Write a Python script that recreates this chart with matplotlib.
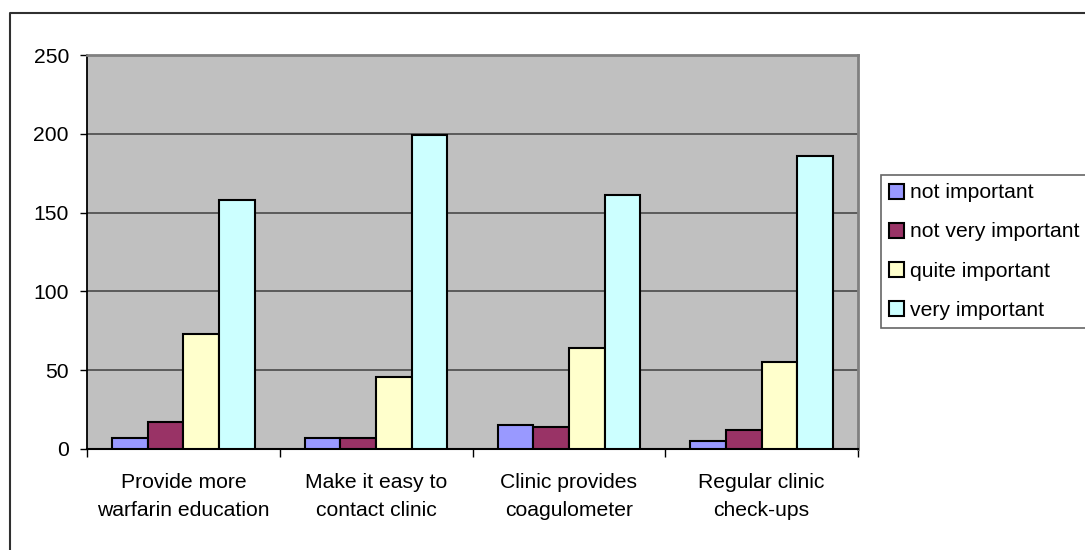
import numpy as np
import matplotlib.pyplot as plt
from matplotlib.lines import Line2D

plt.rcParams['font.family'] = ['Liberation Sans', 'DejaVu Sans']

# data
categories = ['Provide more\nwarfarin education', 'Make it easy to\ncontact clinic',
              'Clinic provides\ncoagulometer', 'Regular clinic\ncheck-ups']
series = ['not important', 'not very important', 'quite important', 'very important']
not_important = [7, 7, 15, 5]
not_very_important = [17, 7, 14, 12]
quite_important = [73, 46, 64, 55]
very_important = [158, 199, 161, 186]
colors = ['#9999FF', '#993366', '#FFFFCC', '#CCFFFF']

values = [not_important, not_very_important, quite_important, very_important]

fig = plt.figure(figsize=(10.85, 5.5), dpi=100)
ax = fig.add_axes([87 / 1085, 101 / 550, 771 / 1085, 394 / 550])
ax.set_facecolor('#C0C0C0')

x = np.arange(len(categories))
bw = 0.185
for k, (name, vals) in enumerate(zip(series, values)):
    ax.bar(x + (k - 1.5) * bw, vals, bw, color=colors[k], edgecolor='black',
           linewidth=1.5, label=name, zorder=3)

ax.set_xlim(-0.5, len(categories) - 0.5)
ax.set_ylim(0, 250)
ax.set_yticks(range(0, 251, 50))
ax.yaxis.grid(True, color='#4a4a4a', linewidth=1.2, zorder=1)
ax.set_axisbelow(True)

# category boundaries as ticks, labels at centres
ax.set_xticks(np.arange(-0.5, len(categories), 1.0))
ax.set_xticklabels([])
ax.set_xticks(x, minor=True)
ax.set_xticklabels(categories, minor=True, fontsize=15.2, linespacing=1.65)
ax.tick_params(axis='x', which='minor', length=0, pad=17)
ax.tick_params(axis='x', which='major', length=6, width=1, color='black')
ax.tick_params(axis='y', length=5, width=1, pad=8, labelsize=15.2)

ax.spines['left'].set_color('black')
ax.spines['bottom'].set_color('black')
ax.spines['left'].set_linewidth(1.3)
ax.spines['bottom'].set_linewidth(1.5)
ax.spines['top'].set_color('#808080')
ax.spines['right'].set_color('#808080')
ax.spines['top'].set_linewidth(2)
ax.spines['right'].set_linewidth(2)

leg = fig.legend(loc='upper left', bbox_to_anchor=(880.5 / 1085, 1 - 175 / 550),
                 fontsize=15.2, frameon=True, fancybox=False, borderaxespad=0,
                 handlelength=0.72, handleheight=0.72, handletextpad=0.3,
                 labelspacing=0.95, borderpad=0.4)
leg.get_frame().set_edgecolor('#404040')
leg.get_frame().set_linewidth(1.2)

# outer chart border
fig.add_artist(Line2D([10 / 1085, 10 / 1085, 1.0], [0.0, 1 - 13 / 550, 1 - 13 / 550],
                      transform=fig.transFigure, color='#303030', linewidth=1.5))

fig.savefig('out.png', dpi=100)
